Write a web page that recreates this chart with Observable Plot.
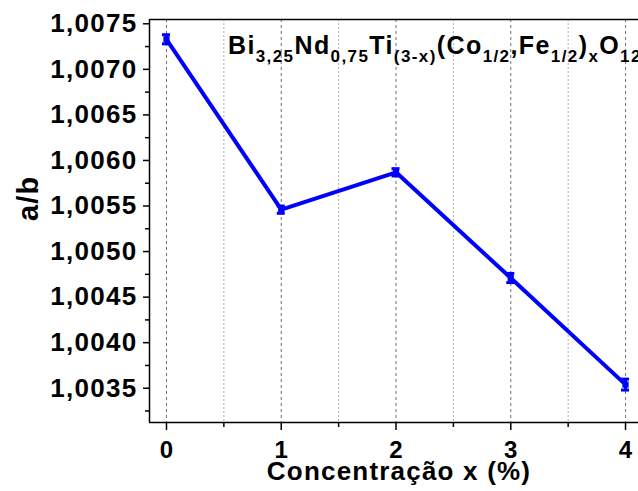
<!DOCTYPE html>
<html><head><meta charset="utf-8">
<script src="https://cdn.jsdelivr.net/npm/d3@7"></script>
<script src="https://cdn.jsdelivr.net/npm/@observablehq/plot@0.6"></script>
<style>
body{margin:0;background:#fff}
g[aria-label="y-axis tick label"] text{letter-spacing:1.3px}
g[aria-label="text"] text{letter-spacing:1.2px}
</style>
</head><body><div id="chart"></div>
<script>
const concentration = [0, 1, 2, 3, 4];
const ratio = [1.00733, 1.00546, 1.00587, 1.00471, 1.00354];
const ratioErr = [0.00005, 0.00004, 0.00004, 0.00005, 0.00006];
const yTicks = [1.0035, 1.0040, 1.0045, 1.0050, 1.0055, 1.0060, 1.0065, 1.0070, 1.0075];
const yMinorTicks = [1.00325, 1.00375, 1.00425, 1.00475, 1.00525, 1.00575, 1.00625, 1.00675, 1.00725];
const xTicks = [0, 1, 2, 3, 4];
const xMinorTicks = [0.5, 1.5, 2.5, 3.5];
const xLabel = "Concentração x (%)";
const yLabel = "a/b";
const titleParts = [["Bi", false], ["3,25", true], ["Nd", false], ["0,75", true], ["Ti", false], ["(3-x)", true],
  ["(Co", false], ["1/2", true], [",Fe", false], ["1/2", true], [")", false], ["x", true], ["O", false], ["12", true]];
const titlePos = {x: 0.54, y: 1.00716};

const xDom = [-0.148, 4.113];
const yDom = [1.003124, 1.007547];
const capW = 0.035;
const blue = "#0000ff";
const font = "'Liberation Sans', Arial, sans-serif";

const data = concentration.map((x, i) => ({x, y: ratio[i], lo: ratio[i] - ratioErr[i], hi: ratio[i] + ratioErr[i]}));
const fmt = d => d.toFixed(4).replace(".", ",");

const plot = Plot.plot({
  width: 638, height: 491,
  marginLeft: 149, marginRight: 0, marginTop: 19, marginBottom: 69,
  x: {domain: xDom},
  y: {domain: yDom},
  style: {fontFamily: font, background: "#fff", color: "#000"},
  marks: [
    Plot.ruleX(xMinorTicks, {stroke: "#b0b0b0", strokeDasharray: "2,2"}),
    Plot.ruleX(xTicks, {stroke: "#707070", strokeDasharray: "3,3"}),
    Plot.axisY({ticks: yTicks, tickFormat: fmt, tickSize: 6, tickPadding: 6, fontSize: 26, fontWeight: "bold", strokeWidth: 1.5, label: null}),
    Plot.axisY({ticks: yMinorTicks, tickFormat: () => "", tickSize: 4, strokeWidth: 1.5, label: null}),
    Plot.axisX({ticks: xTicks, tickFormat: d => String(d), tickSize: 8, tickPadding: 10, fontSize: 24, fontWeight: "bold", strokeWidth: 1.5, label: null}),
    Plot.axisX({ticks: xMinorTicks, tickFormat: () => "", tickSize: 5, strokeWidth: 1.5, label: null}),
    Plot.ruleX([xDom[0]], {strokeWidth: 1.5}),
    Plot.ruleY([yDom[0], yDom[1]], {strokeWidth: 1.5}),
    Plot.text([yLabel], {frameAnchor: "left", dx: -121, rotate: -90, fontSize: 29, fontWeight: "bold"}),
    Plot.text([xLabel], {frameAnchor: "bottom", dy: 57, dx: 5, fontSize: 26, fontWeight: "bold"}),
    Plot.line(data, {x: "x", y: "y", stroke: blue, strokeWidth: 4}),
    Plot.ruleX(data, {x: "x", y1: "lo", y2: "hi", stroke: blue, strokeWidth: 3}),
    Plot.ruleY(data, {y: "lo", x1: d => d.x - capW, x2: d => d.x + capW, stroke: blue, strokeWidth: 3}),
    Plot.ruleY(data, {y: "hi", x1: d => d.x - capW, x2: d => d.x + capW, stroke: blue, strokeWidth: 3}),
    Plot.dot(data, {x: "x", y: "y", symbol: "square", r: 3.5, fill: blue})
  ]
});

const xs = plot.scale("x"), ys = plot.scale("y");
const t = d3.select(plot).append("text")
  .attr("x", xs.apply(titlePos.x)).attr("y", ys.apply(titlePos.y))
  .attr("text-anchor", "start").style("letter-spacing", "1.4px")
  .attr("font-family", font).attr("font-weight", "bold").attr("font-size", 25).attr("fill", "#000");
titleParts.forEach(([s, sub], i) => {
  const prevSub = i > 0 && titleParts[i - 1][1];
  const sp = t.append("tspan").text(s).attr("font-size", sub ? 17 : 25);
  if (sub && !prevSub) sp.attr("dy", 8);
  else if (!sub && prevSub) sp.attr("dy", -8);
});

document.getElementById("chart").appendChild(plot);
</script>
</body></html>
